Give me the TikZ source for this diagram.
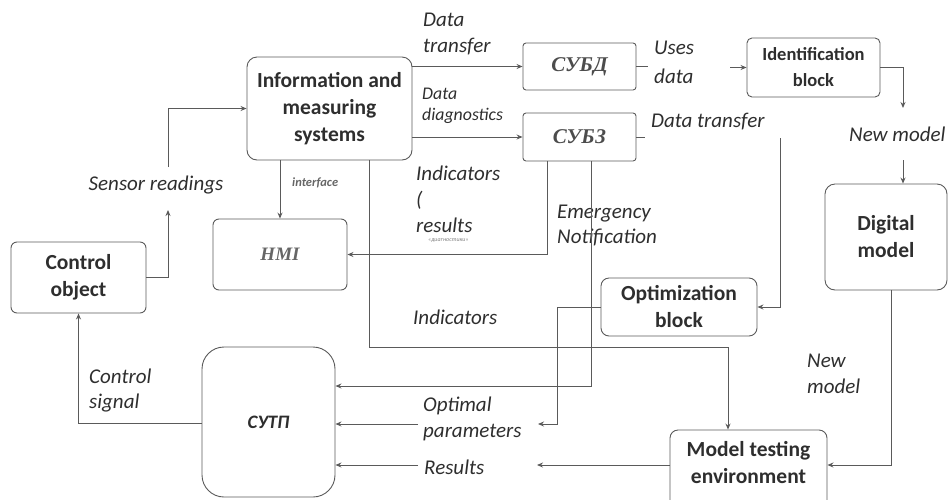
\documentclass[tikz,border=0pt]{standalone}
\usepackage{fontspec}
\setmainfont{Carlito}
\newfontfamily\serifbi{Liberation Serif}
\usetikzlibrary{arrows.meta}
\definecolor{lncol}{HTML}{5A5A5A}
\definecolor{txcol}{HTML}{2E2E2E}
\begin{document}
\begin{tikzpicture}[x=1pt,y=-1pt,
  box/.style={draw=lncol,line width=0.9pt,inner sep=0pt,align=center,
    text=txcol,font=\fontsize{21.5}{27}\selectfont\bfseries},
  lbl/.style={text=txcol,font=\fontsize{21}{26}\selectfont\itshape,
    align=left,anchor=west,inner sep=0pt},
  ln/.style={draw=lncol,line width=0.9pt},
  arr/.style={ln,-{Stealth[length=6pt,width=5pt]}}]
\useasboundingbox (0,0) rectangle (948,499);

% blocks
\node[box,rounded corners=10pt,minimum width=165pt,minimum height=103pt]
  (ims) at (329.5,108.5) {Information and\\measuring\\systems};
\node[box,rounded corners=3pt,minimum width=113pt,minimum height=47pt,
  font=\fontsize{21}{24}\selectfont\serifbi\bfseries\itshape,text=black!70]
  (subd) at (579.5,66.5) {СУБД};
\node[box,rounded corners=3pt,minimum width=113pt,minimum height=48pt,
  font=\fontsize{21}{24}\selectfont\serifbi\bfseries\itshape,text=black!70]
  (subz) at (579.5,137) {СУБЗ};
\node[box,rounded corners=5pt,minimum width=133pt,minimum height=59pt,
  font=\fontsize{18.5}{26}\selectfont\bfseries]
  (ident) at (813.5,67.5) {Identification\\block};
\node[box,rounded corners=10pt,minimum width=122pt,minimum height=106pt]
  (dig) at (886,237) {Digital\\model};
\node[box,rounded corners=6pt,minimum width=134pt,minimum height=71pt,
  font=\fontsize{19}{22}\selectfont\serifbi\bfseries\itshape,text=black!60]
  (hmi) at (280,254.5) {HMI};
\node[box,rounded corners=6pt,minimum width=135pt,minimum height=71pt]
  (co) at (78.5,277.5) {Control\\object};
\node[box,rounded corners=22pt,minimum width=133pt,minimum height=150pt,
  font=\fontsize{19}{22}\selectfont\bfseries\itshape]
  (sutp) at (268.5,422) {СУТП};
\node[box,rounded corners=8pt,minimum width=156pt,minimum height=58pt]
  (opt) at (679,307) {Optimization\\block};
\node[box,rounded corners=8pt,minimum width=157pt,minimum height=80pt]
  (mt) at (748.5,470) {};
\node[box,draw=none] (mtt) at (748.5,463) {Model testing\\environment};

% labels
\node[lbl] (l1) at (423,33.5) {Data\\transfer};
\node[lbl,font=\fontsize{17.8}{21}\selectfont\itshape] (l2) at (422,105.5) {Data\\diagnostics};
\node[lbl,font=\fontsize{21}{29}\selectfont\itshape] (l3) at (654,62.5) {Uses\\data};
\node[lbl] (l4) at (651,122) {Data transfer};
\node[lbl] (l5) at (849,134) {New model};
\node[lbl,anchor=center] (l6) at (156,185) {Sensor readings};
\node[lbl,font=\fontsize{12.5}{14}\selectfont\itshape\bfseries,text=black!60] (l7) at (292,183) {interface};
\node[lbl] (l8) at (416,199) {Indicators\\(\\results};
\node[lbl,font=\fontsize{6}{7}\selectfont\itshape,text=black!50] (l9) at (428,241) {«диагностики»};
\node[lbl,font=\fontsize{21}{25}\selectfont\itshape] (l10) at (557,225.5) {Emergency\\Notification};
\node[lbl] (l11) at (413,317) {Indicators};
\node[lbl,font=\fontsize{21}{25}\selectfont\itshape] (l12) at (89,390.5) {Control\\signal};
\node[lbl] (l13) at (423,419) {Optimal\\parameters};
\node[lbl] (l14) at (424,467) {Results};
\node[lbl] (l15) at (807,374) {New\\model};

% free ends where a line is broken by its label
\coordinate (ud1) at (648,66.5);
\coordinate (ud2) at (730,67.5);
\coordinate (dt1) at (645,137);
\coordinate (dt2) at (780,138);
\coordinate (nm1) at (903,108);
\coordinate (nm2) at (903,160);
\coordinate (sr1) at (168,210);
\coordinate (sr2) at (168,167);
\coordinate (op1) at (538,424);
\coordinate (op2) at (418,424);
\coordinate (rs1) at (537,465);
\coordinate (rs2) at (418,465);

% connectors
\draw[arr] (subd.west -| ims.east) -- (subd.west);
\draw[arr] (subz.west -| ims.east) -- (subz.west);
\draw[ln] (subd.east) -- (ud1);
\draw[arr] (ud2) -- (ident.west);
\draw[ln] (subz.east) -- (dt1);
\draw[arr] (dt2) |- (opt.east);
\draw[arr] (ident.east) -| (nm1);
\draw[arr] (nm2) -- (nm2 |- dig.north);
\draw[arr] (co.east) -| (sr1);
\draw[arr] (sr2) |- (ims.west);
\draw[arr] (hmi.north |- ims.south) -- (hmi.north);
\draw[arr] ([xshift=39.5pt]ims.south) |- ([xshift=-20.5pt]mt.north |- 0,347)
  -- ([xshift=-20.5pt]mt.north);
\draw[arr] ([xshift=-32.5pt]subz.south) |- (hmi.east);
\draw[arr] ([xshift=11.5pt]subz.south) |- (sutp.east |- 0,386);
\draw[arr] (opt.west) -| (557,424) -- (op1);
\draw[arr] (op2) -- (sutp.east |- op2);
\draw[arr] (mt.west |- rs1) -- (rs1);
\draw[arr] (rs2) -- (sutp.east |- rs2);
\draw[arr] ([xshift=5pt]dig.south) |- (mt.east |- rs1);
\draw[arr] (sutp.west |- 0,423) -| (co.south);
\end{tikzpicture}
\end{document}
